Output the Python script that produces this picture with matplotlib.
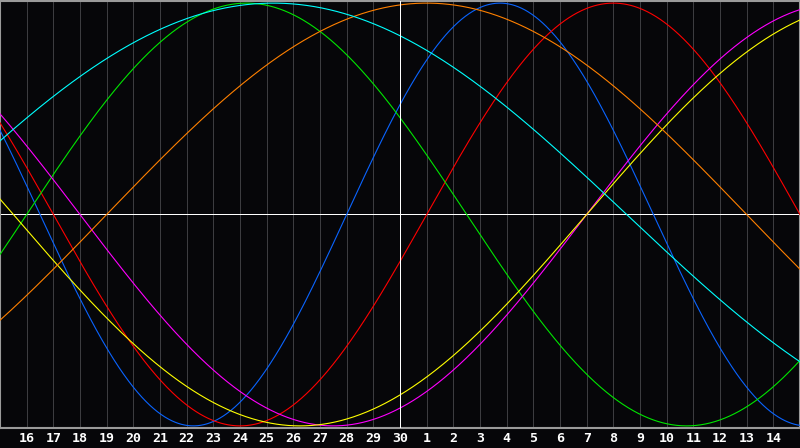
import numpy as np
import matplotlib
matplotlib.use("Agg")
import matplotlib.pyplot as plt

# biorhythm cycles (period in days) and colours as seen in the chart
cycle_names = ["physical", "emotional", "intellectual", "intuitive",
               "aesthetic", "awareness", "spiritual"]
periods = [23, 28, 33, 38, 43, 48, 53]
colors = ["#0a64ff", "#ff0000", "#00e600", "#ff00ff",
          "#ffff00", "#ff8000", "#00ffff"]

days_alive = 14699          # day count at the centre (today)
day_labels = [16, 17, 18, 19, 20, 21, 22, 23, 24, 25, 26, 27, 28, 29, 30,
              1, 2, 3, 4, 5, 6, 7, 8, 9, 10, 11, 12, 13, 14]
day_offsets = list(range(-14, 15))

bg = "#060609"
fig = plt.figure(figsize=(8, 4.48), dpi=100, facecolor=bg)
ax = fig.add_axes([0.0, 20 / 448, 1.0, 427 / 448])
ax.set_facecolor(bg)

ax.set_xlim(-15, 15)
ax.set_ylim(-1.01, 1.01)

# day grid
for d in day_offsets:
    ax.axvline(d, color="#3c3c40", lw=0.7, zorder=1, antialiased=False)

t = np.linspace(-15, 15, 1500)
for name, p, c in zip(cycle_names, periods, colors):
    ax.plot(t, np.sin(2 * np.pi * (days_alive + t) / p), color=c, lw=0.8,
            zorder=3, label=name)

ax.axhline(0, color="white", lw=0.7, zorder=2, antialiased=False)
ax.axvline(0, color="white", lw=0.7, zorder=4, antialiased=False)

for s in ax.spines.values():
    s.set_color("#9a9a9a")
    s.set_linewidth(1.5)

ax.set_yticks([])
ax.set_xticks(day_offsets)
ax.set_xticklabels([str(v) for v in day_labels], color="white",
                   fontsize=9.5, fontweight="bold", family="DejaVu Sans Mono")
ax.tick_params(axis="x", length=0, pad=3)

fig.savefig("out.png", dpi=100, facecolor=bg)
